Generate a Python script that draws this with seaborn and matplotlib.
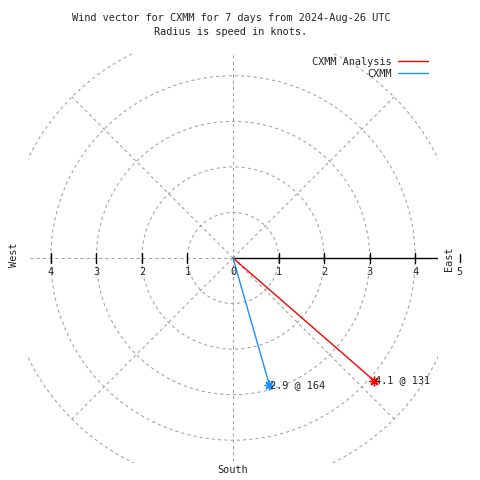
import matplotlib
matplotlib.use("Agg")
import matplotlib.pyplot as plt
import numpy as np
import pandas as pd
import seaborn as sns
from matplotlib.lines import Line2D

# data
series = ["CXMM Analysis", "CXMM"]
speeds = [4.1, 2.9]        # knots
directions = [131, 164]    # degrees from north, clockwise
colors = ["#ff0000", "#1e8fff"]
ring_radii = [1, 2, 3, 4, 5]
spoke_angles = [0, 45, 90, 135, 180, 225, 270, 315]
tick_values = [1, 2, 3, 4]

sns.set_style("white")
plt.rcParams["font.family"] = ["DejaVu Sans Mono", "DejaVu Sans"]
FS = 7.4
GRID = "#a0a0a0"
DASH = (0, (3, 3))

fig = plt.figure(figsize=(4.8, 4.8), dpi=100)
ax = fig.add_axes([28 / 480, 17 / 480, 410 / 480, 410 / 480])
ax.set_xlim(-4.5, 4.5)
ax.set_ylim(-4.5, 4.5)
ax.set_axis_off()

# polar grid
theta = np.linspace(0, 2 * np.pi, 721)
for r in ring_radii:
    ax.plot(r * np.cos(theta), r * np.sin(theta), color=GRID, lw=0.75, ls=DASH)
for a in spoke_angles:
    t = np.deg2rad(a)
    ax.plot([0, 5 * np.cos(t)], [0, 5 * np.sin(t)], color=GRID, lw=0.75, ls=DASH)

# speed axis
ax.plot([0, 4.5], [0, 0], color="black", lw=1)
for v in tick_values:
    for s in (1, -1):
        ax.plot([s * v, s * v], [-0.11, 0.11], color="black", lw=1)
        ax.text(s * v, -0.31, str(v), ha="center", va="center", fontsize=FS)
ax.text(0, -0.31, "0", ha="center", va="center", fontsize=FS)
ax.plot([4.98, 4.98], [-0.09, 0.09], color="black", lw=1, clip_on=False)
ax.text(4.98, -0.31, "5", ha="center", va="center", fontsize=FS, clip_on=False)

# wind vectors
math_ang = np.deg2rad(90 - np.array(directions))
ex = np.array(speeds) * np.cos(math_ang)
ey = np.array(speeds) * np.sin(math_ang)
lines = pd.DataFrame({
    "x": np.concatenate([np.zeros(len(series)), ex]),
    "y": np.concatenate([np.zeros(len(series)), ey]),
    "series": series + series,
})
sns.lineplot(data=lines, x="x", y="y", hue="series", palette=colors,
             sort=False, estimator=None, lw=1, legend=False, ax=ax)
for i, name in enumerate(series):
    ax.plot(ex[i], ey[i], marker=(8, 2, 0), ms=7, mew=1, color=colors[i], ls="none")
    ax.annotate(f"{speeds[i]} @ {directions[i]}", (ex[i], ey[i]), xytext=(0.5, 0),
                textcoords="offset points", ha="left", va="center", fontsize=FS)

handles = [Line2D([], [], color=c, lw=1) for c in colors]
ax.legend(handles, series, markerfirst=False, frameon=False, loc="upper right",
          bbox_to_anchor=(428 / 480, 1 - 57 / 480), bbox_transform=fig.transFigure,
          borderpad=0, borderaxespad=0, handlelength=2.9, handletextpad=0.6,
          labelspacing=0.15, fontsize=FS)

fig.text(231 / 480, 1 - 18 / 480, "Wind vector for CXMM for 7 days from 2024-Aug-26 UTC",
         ha="center", va="center", fontsize=FS)
fig.text(231 / 480, 1 - 32 / 480, "Radius is speed in knots.",
         ha="center", va="center", fontsize=FS)
fig.text(14 / 480, 1 - 255 / 480, "West", rotation=90, ha="center", va="center", fontsize=FS)
fig.text(449 / 480, 1 - 259 / 480, "East", rotation=90, ha="center", va="center", fontsize=FS)
fig.text(233 / 480, 1 - 470 / 480, "South", ha="center", va="center", fontsize=FS)

fig.savefig("out.png", dpi=100)
plt.close(fig)
